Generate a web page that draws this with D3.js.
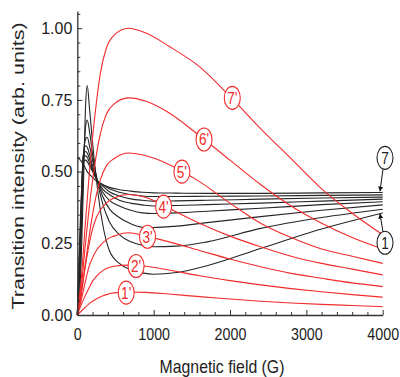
<!DOCTYPE html>
<html>
<head>
<meta charset="utf-8">
<script src="https://cdn.jsdelivr.net/npm/d3@7"></script>
<style>
  html, body { margin: 0; padding: 0; background: #fff; }
  svg { display: block; }
</style>
</head>
<body>
<div id="chart"></div>
<script>
// field (G) sample points
var fieldBlack = [0, 40, 80, 110, 130, 160, 200, 260, 330, 420, 550, 700, 850, 1000, 1300, 1700, 2400, 3200, 4000];
var fieldRed = [0, 50, 100, 150, 200, 250, 300, 380, 480, 670, 900, 1200, 1600, 2000, 2400, 2800, 3200, 3600, 4000];

// black transitions, bottom (1) to top (7)
var black1 = [0, 0.12, 0.45, 0.74, 0.80, 0.72, 0.60, 0.45, 0.32, 0.225, 0.18, 0.158, 0.147, 0.142, 0.148, 0.172, 0.232, 0.30, 0.356];
var black2 = [0, 0.18, 0.52, 0.66, 0.68, 0.64, 0.56, 0.47, 0.39, 0.325, 0.28, 0.255, 0.243, 0.238, 0.24, 0.255, 0.302, 0.34, 0.369];
var black3 = [0, 0.22, 0.55, 0.615, 0.62, 0.59, 0.54, 0.47, 0.415, 0.37, 0.34, 0.318, 0.306, 0.305, 0.31, 0.322, 0.343, 0.365, 0.384];
var black4 = [0, 0.25, 0.56, 0.59, 0.585, 0.56, 0.52, 0.47, 0.43, 0.40, 0.38, 0.365, 0.356, 0.354, 0.356, 0.362, 0.372, 0.385, 0.395];
var black5 = [0, 0.28, 0.56, 0.57, 0.565, 0.545, 0.51, 0.47, 0.44, 0.42, 0.40, 0.39, 0.384, 0.38, 0.382, 0.385, 0.39, 0.397, 0.404];
var black6 = [0, 0.30, 0.55, 0.555, 0.55, 0.53, 0.505, 0.47, 0.45, 0.43, 0.415, 0.405, 0.40, 0.397, 0.398, 0.40, 0.404, 0.408, 0.411];
var black7 = [0, 0.33, 0.535, 0.54, 0.535, 0.52, 0.50, 0.47, 0.455, 0.44, 0.428, 0.42, 0.415, 0.413, 0.413, 0.414, 0.415, 0.417, 0.419];
var black8 = [0.55, 0.54, 0.525, 0.51, 0.50, 0.49, 0.48, 0.465, 0.455, 0.445, 0.437, 0.432, 0.428, 0.426, 0.425, 0.424, 0.424, 0.426, 0.427];

// red (primed) transitions 1' .. 7'
var red1 = [0, 0.013, 0.026, 0.038, 0.048, 0.056, 0.063, 0.071, 0.077, 0.08, 0.079, 0.073, 0.064, 0.056, 0.048, 0.042, 0.037, 0.033, 0.029];
var red2 = [0, 0.035, 0.065, 0.092, 0.118, 0.135, 0.148, 0.162, 0.17, 0.174, 0.17, 0.157, 0.137, 0.12, 0.105, 0.092, 0.081, 0.071, 0.062];
var red3 = [0, 0.05, 0.11, 0.165, 0.20, 0.225, 0.242, 0.262, 0.275, 0.287, 0.275, 0.255, 0.225, 0.195, 0.168, 0.145, 0.128, 0.112, 0.099];
var red4 = [0, 0.07, 0.16, 0.24, 0.30, 0.34, 0.365, 0.39, 0.408, 0.42, 0.41, 0.372, 0.32, 0.275, 0.238, 0.205, 0.18, 0.16, 0.14];
var red5 = [0, 0.07, 0.17, 0.265, 0.35, 0.42, 0.47, 0.52, 0.545, 0.565, 0.555, 0.525, 0.465, 0.39, 0.32, 0.27, 0.23, 0.205, 0.18];
var red6 = [0, 0.09, 0.23, 0.36, 0.47, 0.56, 0.63, 0.70, 0.735, 0.757, 0.745, 0.705, 0.625, 0.54, 0.455, 0.38, 0.32, 0.27, 0.23];
var red7 = [0, 0.12, 0.30, 0.47, 0.62, 0.74, 0.84, 0.93, 0.975, 1.0, 0.983, 0.937, 0.866, 0.762, 0.65, 0.545, 0.44, 0.355, 0.28];

// in-line labels on the red curves
var redLabels = ["1'", "2'", "3'", "4'", "5'", "6'", "7'"];
var redLabelField = [640, 770, 920, 1130, 1370, 1660, 2030];
var redLabelValue = [0.078, 0.171, 0.273, 0.378, 0.50, 0.612, 0.757];

// black end labels with arrows
var blackLabels = ["7", "1"];
var blackLabelField = [4030, 4030];
var blackLabelValue = [0.548, 0.252];
var arrowFromValue = [0.508, 0.29];
var arrowToField = [3965, 3965];
var arrowToValue = [0.432, 0.352];

var xMajor = [0, 1000, 2000, 3000, 4000];
var yMajor = [0, 0.25, 0.5, 0.75, 1.0];

var chart = function () {
    var that = this;
    that.width = 400;
    that.height = 377;
    that.red = "#f22a2a";
    that.black = "#262626";
    that.font = "'Liberation Sans', Arial, sans-serif";

    that.svg = d3.select("#chart").append("svg")
        .attr("width", that.width)
        .attr("height", that.height)
        .style("background-color", "#fff");

    that.xScale = d3.scaleLinear().domain([0, 4000]).range([77.3, 382.7]);
    that.yScale = d3.scaleLinear().domain([0, 1.06]).range([315, 11]);

    var line = d3.line()
        .x(function (d) { return that.xScale(d[0]); })
        .y(function (d) { return that.yScale(d[1]); })
        .curve(d3.curveMonotoneX);

    var blacks = [black1, black2, black3, black4, black5, black6, black7, black8];
    var reds = [red1, red2, red3, red4, red5, red6, red7];

    that.svg.append("g").attr("class", "black-lines")
        .selectAll("path")
        .data(blacks)
        .enter()
        .append("path")
        .attr("d", function (s) { return line(d3.zip(fieldBlack, s)); })
        .attr("fill", "none")
        .attr("stroke", that.black)
        .attr("stroke-width", 1.1);

    that.svg.append("g").attr("class", "red-lines")
        .selectAll("path")
        .data(reds)
        .enter()
        .append("path")
        .attr("d", function (s) { return line(d3.zip(fieldRed, s)); })
        .attr("fill", "none")
        .attr("stroke", that.red)
        .attr("stroke-width", 1.1);

    // axes, ticks pointing inward
    var xMinor = d3.range(0, 4001, 200).filter(function (v) { return v % 1000 !== 0; });
    var yMinor = d3.range(0, 21).map(function (i) { return i * 0.05; })
        .filter(function (v, i) { return i % 5 !== 0; }).concat([1.05]);

    that.svg.append("g")
        .attr("transform", "translate(0,315)")
        .call(d3.axisBottom(that.xScale).tickValues(xMinor).tickSize(-3).tickSizeOuter(0).tickFormat(""))
        .call(function (g) { g.select(".domain").remove(); });
    that.svg.append("g")
        .attr("transform", "translate(77.3,0)")
        .call(d3.axisLeft(that.yScale).tickValues(yMinor).tickSize(-3).tickSizeOuter(0).tickFormat(""))
        .call(function (g) { g.select(".domain").remove(); });

    var xAxis = that.svg.append("g")
        .attr("class", "x axis")
        .attr("transform", "translate(0,315)")
        .call(d3.axisBottom(that.xScale).tickValues(xMajor).tickSize(-5).tickSizeOuter(0).tickPadding(13)
            .tickFormat(d3.format("d")));
    xAxis.selectAll("text")
        .attr("font-size", 17)
        .attr("font-family", that.font)
        .attr("fill", "#222")
        .attr("transform", "scale(0.84,1)");

    var yAxis = that.svg.append("g")
        .attr("class", "y axis")
        .attr("transform", "translate(77.3,0)")
        .call(d3.axisLeft(that.yScale).tickValues(yMajor).tickSize(-5).tickSizeOuter(0).tickPadding(5)
            .tickFormat(d3.format(".2f")));
    yAxis.selectAll("text")
        .attr("font-size", 16)
        .attr("font-family", that.font)
        .attr("fill", "#222");

    that.svg.selectAll(".tick line").attr("stroke", "#333").attr("stroke-width", 1);
    that.svg.selectAll(".domain").attr("stroke", "#333").attr("stroke-width", 1.3);

    // axis titles
    that.svg.append("text")
        .attr("transform", "translate(222,373) scale(0.88,1)")
        .attr("text-anchor", "middle")
        .attr("font-size", 18)
        .attr("font-family", that.font)
        .attr("fill", "#222")
        .text("Magnetic field (G)");

    that.svg.append("text")
        .attr("transform", "translate(23.5,166) scale(0.75,1) rotate(-90)")
        .attr("text-anchor", "middle")
        .attr("font-size", 21.5)
        .attr("font-family", that.font)
        .attr("fill", "#222")
        .text("Transition intensity (arb. units)");

    // red curve labels
    var rl = that.svg.append("g").attr("class", "red-labels")
        .selectAll("g")
        .data(redLabels)
        .enter()
        .append("g")
        .attr("transform", function (d, i) {
            return "translate(" + that.xScale(redLabelField[i]) + "," + that.yScale(redLabelValue[i]) + ")";
        });
    rl.append("ellipse")
        .attr("rx", 8)
        .attr("ry", 11.5)
        .attr("fill", "#fff")
        .attr("stroke", that.red)
        .attr("stroke-width", 1.1);
    rl.append("text")
        .attr("transform", "scale(0.8,1)")
        .attr("y", 6)
        .attr("text-anchor", "middle")
        .attr("font-size", 17)
        .attr("font-family", that.font)
        .attr("fill", that.red)
        .text(function (d) { return d; });

    // arrows for black labels
    var defs = that.svg.append("defs");
    defs.append("marker")
        .attr("id", "arrow")
        .attr("viewBox", "0 0 10 10")
        .attr("refX", 9).attr("refY", 5)
        .attr("markerWidth", 5).attr("markerHeight", 6)
        .attr("orient", "auto")
        .append("path")
        .attr("d", "M0,0 L10,5 L0,10 Z")
        .attr("fill", "#111");

    that.svg.append("g").attr("class", "arrows")
        .selectAll("line")
        .data(blackLabels)
        .enter()
        .append("line")
        .attr("x1", function (d, i) { return that.xScale(blackLabelField[i]) - 2; })
        .attr("y1", function (d, i) { return that.yScale(arrowFromValue[i]); })
        .attr("x2", function (d, i) { return that.xScale(arrowToField[i]); })
        .attr("y2", function (d, i) { return that.yScale(arrowToValue[i]); })
        .attr("stroke", "#111")
        .attr("stroke-width", 1)
        .attr("marker-end", "url(#arrow)");

    var bl = that.svg.append("g").attr("class", "black-labels")
        .selectAll("g")
        .data(blackLabels)
        .enter()
        .append("g")
        .attr("transform", function (d, i) {
            return "translate(" + that.xScale(blackLabelField[i]) + "," + that.yScale(blackLabelValue[i]) + ")";
        });
    bl.append("ellipse")
        .attr("rx", 8)
        .attr("ry", 11.5)
        .attr("fill", "#fff")
        .attr("stroke", "#222")
        .attr("stroke-width", 1.1);
    bl.append("text")
        .attr("transform", "scale(0.8,1)")
        .attr("y", 6)
        .attr("text-anchor", "middle")
        .attr("font-size", 17)
        .attr("font-family", that.font)
        .attr("fill", "#222")
        .text(function (d) { return d; });

    return that;
};

chart.call({});
</script>
</body>
</html>
